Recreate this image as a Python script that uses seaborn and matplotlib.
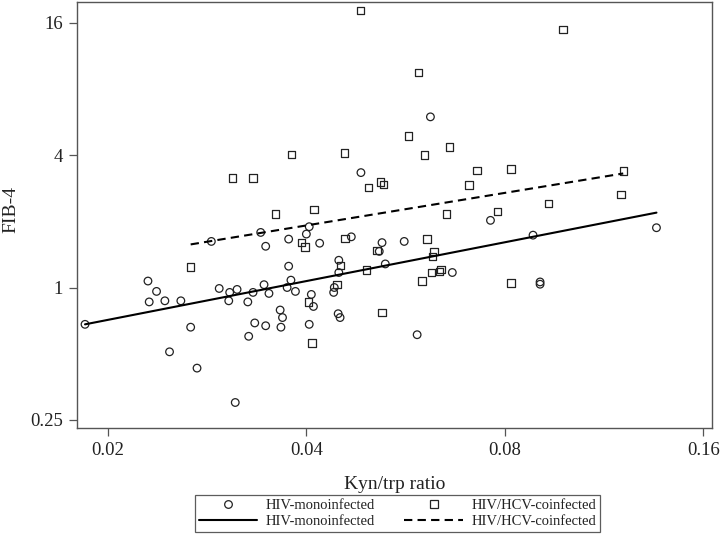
import matplotlib
matplotlib.use("Agg")
import matplotlib.pyplot as plt
from matplotlib.lines import Line2D
import seaborn as sns
import pandas as pd

# ---- data ----
mono_x = [0.0484, 0.0341, 0.0404, 0.0400, 0.0287, 0.0347, 0.0376, 0.0419, 0.0468, 0.0521,
          0.0516, 0.0527, 0.0376, 0.0448, 0.0448, 0.0379, 0.0230, 0.0237, 0.0295, 0.0306,
          0.0314, 0.0332, 0.0345, 0.0351, 0.0374, 0.0385, 0.0407, 0.0441, 0.0440, 0.0231,
          0.0244, 0.0258, 0.0305, 0.0326, 0.0410, 0.0365, 0.0368, 0.0447, 0.0450, 0.01846,
          0.0267, 0.0334, 0.0347, 0.0366, 0.0404, 0.0327, 0.0248, 0.0273, 0.0312, 0.0617,
          0.0761, 0.1359, 0.0883, 0.0563, 0.0666, 0.0905, 0.0905, 0.0589]
mono_y = [3.33, 1.78, 1.89, 1.75, 1.62, 1.54, 1.66, 1.59, 1.70, 1.60,
          1.46, 1.28, 1.25, 1.33, 1.17, 1.08, 1.07, 0.96, 0.99, 0.95,
          0.98, 0.95, 1.03, 0.94, 1.00, 0.96, 0.93, 1.00, 0.95, 0.86,
          0.87, 0.87, 0.87, 0.86, 0.82, 0.79, 0.73, 0.76, 0.73, 0.68,
          0.66, 0.69, 0.67, 0.66, 0.68, 0.60, 0.51, 0.43, 0.30, 5.97,
          2.02, 1.87, 1.73, 1.62, 1.17, 1.06, 1.035, 0.61]

co_x = [0.0483, 0.0309, 0.0332, 0.0380, 0.0457, 0.0497, 0.0518, 0.0524, 0.0359, 0.0411,
        0.0980, 0.0592, 0.0571, 0.0659, 0.0604, 0.0726, 0.0818, 0.1210, 0.0706, 0.1200,
        0.0933, 0.0652, 0.0780, 0.0393, 0.0398, 0.0458, 0.0512, 0.0494, 0.0267, 0.0451,
        0.0445, 0.0403, 0.0521, 0.0408, 0.0610, 0.0625, 0.0622, 0.0599, 0.0619, 0.0637,
        0.0640, 0.0818]
co_y = [18.2, 3.15, 3.15, 4.02, 4.09, 2.84, 3.02, 2.94, 2.16, 2.27,
        14.9, 9.53, 4.89, 4.35, 4.01, 3.40, 3.46, 3.39, 2.93, 2.64,
        2.41, 2.16, 2.21, 1.60, 1.53, 1.67, 1.47, 1.20, 1.24, 1.26,
        1.03, 0.86, 0.77, 0.56, 1.66, 1.46, 1.38, 1.07, 1.17, 1.18,
        1.21, 1.05]

# fitted lines (end points)
fit_mono_x = [0.01846, 0.1359]
fit_mono_y = [0.68, 2.19]
fit_co_x = [0.0267, 0.1210]
fit_co_y = [1.57, 3.30]

x_ticks = [0.02, 0.04, 0.08, 0.16]
x_tick_labels = ["0.02", "0.04", "0.08", "0.16"]
y_ticks = [0.25, 1, 4, 16]
y_tick_labels = ["0.25", "1", "4", "16"]

label_mono = "HIV-monoinfected"
label_co = "HIV/HCV-coinfected"

# ---- style ----
sns.set_theme(style="white")
plt.rcParams["font.family"] = ["Liberation Serif", "DejaVu Serif"]
ink = "#222222"
spine_c = "#555555"

fig = plt.figure(figsize=(7.2, 5.34), dpi=100)
ax = fig.add_axes([77 / 720, 1 - 428 / 534, (712 - 77) / 720, (428 - 2) / 534])

ax.set_xscale("log", base=2)
ax.set_yscale("log", base=2)

df_mono = pd.DataFrame({"x": mono_x, "y": mono_y})
df_co = pd.DataFrame({"x": co_x, "y": co_y})

sns.scatterplot(data=df_mono, x="x", y="y", marker="o", s=30,
                facecolors="none", edgecolor=ink, linewidth=0.9, ax=ax, zorder=3)
sns.scatterplot(data=df_co, x="x", y="y", marker="s", s=28,
                facecolors="none", edgecolor=ink, linewidth=0.9, ax=ax, zorder=3)

sns.lineplot(x=fit_mono_x, y=fit_mono_y, color="black", lw=1.5,
             estimator=None, ax=ax, zorder=4)
sns.lineplot(x=fit_co_x, y=fit_co_y, color="black", lw=1.5,
             linestyle=(0, (4, 2.5)), estimator=None, ax=ax, zorder=4)

ax.set_xlim(0.01795, 0.1650)
ax.set_ylim(0.2297, 19.87)

ax.set_xticks(x_ticks)
ax.set_xticklabels(x_tick_labels)
ax.set_yticks(y_ticks)
ax.set_yticklabels(y_tick_labels)
ax.minorticks_off()

ax.tick_params(axis="both", which="major", direction="out", length=6, width=0.9,
               color=spine_c, labelsize=13.5, labelcolor=ink, pad=4,
               left=True, bottom=True)
for sp in ax.spines.values():
    sp.set_visible(True)
    sp.set_color(spine_c)
    sp.set_linewidth(1.0)

ax.set_xlabel("Kyn/trp ratio", fontsize=14, color=ink, labelpad=12)
ax.set_ylabel("FIB-4", fontsize=14, color=ink)
ax.yaxis.set_label_coords(-0.09, 0.512)
ax.grid(False)
ax.set_facecolor("white")

handles = [
    Line2D([], [], marker="o", ls="none", mfc="none", mec=ink, mew=0.9, ms=5.5),
    Line2D([], [], color="black", lw=1.5),
    Line2D([], [], marker="s", ls="none", mfc="none", mec=ink, mew=0.9, ms=5.3),
    Line2D([], [], color="black", lw=1.5, ls=(0, (4, 2.5))),
]
labels = [label_mono, label_mono, label_co, label_co]
leg = fig.legend(handles, labels, ncol=2, loc="lower center",
                 bbox_to_anchor=(397.5 / 720, 2 / 534),
                 frameon=True, fancybox=False, shadow=False,
                 edgecolor="#333333", fontsize=10.5,
                 handlelength=4.0, handletextpad=0.6, columnspacing=2.0,
                 labelspacing=0.2, borderpad=0.25, borderaxespad=0)
leg.get_frame().set_linewidth(0.9)
for t in leg.get_texts():
    t.set_color(ink)

fig.savefig("out.png", dpi=100, facecolor="white")
